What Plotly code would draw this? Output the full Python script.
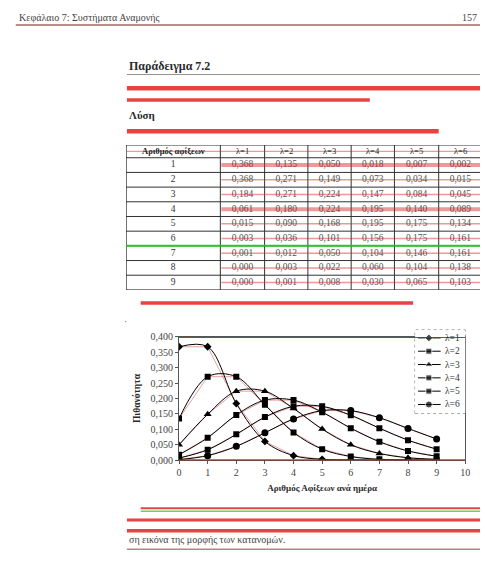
import plotly.graph_objects as go

W, H = 485, 571

# ---- data ----
arrivals = [0, 1, 2, 3, 4, 5, 6, 7, 8, 9]
lam1 = [0.368, 0.368, 0.184, 0.061, 0.015, 0.003, 0.001, 0.000, 0.000, 0.000]
lam2 = [0.135, 0.271, 0.271, 0.180, 0.090, 0.036, 0.012, 0.003, 0.001, 0.000]
lam3 = [0.050, 0.149, 0.224, 0.224, 0.168, 0.101, 0.050, 0.022, 0.008, 0.003]
lam4 = [0.018, 0.073, 0.147, 0.195, 0.195, 0.156, 0.104, 0.060, 0.030, 0.013]
lam5 = [0.007, 0.034, 0.084, 0.140, 0.175, 0.175, 0.146, 0.104, 0.065, 0.036]
lam6 = [0.002, 0.015, 0.045, 0.089, 0.134, 0.161, 0.161, 0.138, 0.103, 0.069]
series_names = ["λ=1", "λ=2", "λ=3", "λ=4", "λ=5", "λ=6"]
table_header = ["Αριθμός αφίξεων"] + series_names
table_rows = [1, 2, 3, 4, 5, 6, 7, 8, 9]
x_ticks = [0, 1, 2, 3, 4, 5, 6, 7, 8, 9, 10]
y_ticks = [0, 0.05, 0.10, 0.15, 0.20, 0.25, 0.30, 0.35, 0.40]

series = [lam1, lam2, lam3, lam4, lam5, lam6]
symbols = ["diamond", "square", "triangle-up", "square", "square", "circle"]
sizes = [6, 6, 7, 6, 6, 7]

FONT = "Liberation Serif"
TXT = "#2a2a2a"


def px(x):
    return x / W


def py(y):
    return 1 - y / H


fig = go.Figure()

# red linear overlay (scan artefacts)
for s in series:
    fig.add_trace(go.Scatter(x=arrivals, y=s, mode="lines",
                             line=dict(color="rgba(200,20,20,0.5)", width=0.8),
                             showlegend=False, hoverinfo="skip"))

for name, s, sym, sz in zip(series_names, series, symbols, sizes):
    fig.add_trace(go.Scatter(
        x=arrivals, y=s, name=name, mode="lines+markers", showlegend=False,
        line=dict(color="black", width=1, shape="spline", smoothing=1),
        marker=dict(symbol=sym, size=sz, color="black"),
    ))

# hand-made legend (small, tight box like the scan) on its own axes
leg_annotations = []
for k, (name, sym, sz) in enumerate(zip(series_names, symbols, sizes)):
    fig.add_trace(go.Scatter(
        x=[3, 14, 26], y=[k, k, k], mode="lines+markers", showlegend=False, hoverinfo="skip",
        xaxis="x2", yaxis="y2",
        line=dict(color="black", width=1),
        marker=dict(symbol=sym, size=[0, sz, 0], color="black"),
    ))
    leg_annotations.append(dict(text=name, x=28, y=k, xref="x2", yref="y2", xanchor="left",
                                yanchor="middle", showarrow=False,
                                font=dict(family=FONT, size=9.5, color="#333")))

# ---- table drawn on its own axes (x3/y3, units = pixels inside the table) ----
def fmt(v):
    return f"{v:.3f}".replace(".", ",")

col_edges = [0, 96, 141, 185, 229, 273, 318, 362]
header_h, row_h = 13, 15
col_centers = [(a + b) / 2 for a, b in zip(col_edges[:-1], col_edges[1:])]
row_centers = [header_h + row_h * i + row_h / 2 for i in range(len(table_rows))]
row_edges = [0, header_h] + [header_h + row_h * (i + 1) for i in range(len(table_rows))]

columns = [[str(r) for r in table_rows]] + [[fmt(v) for v in s[:len(table_rows)]] for s in series]
for j, colvals in enumerate(columns):
    fig.add_trace(go.Scatter(
        x=[col_centers[j]] * len(colvals), y=row_centers, text=colvals, mode="text",
        textfont=dict(family=FONT, size=9.5, color="#333" if j == 0 else "#555"),
        xaxis="x3", yaxis="y3", showlegend=False, hoverinfo="skip", cliponaxis=False,
    ))
table_ann = []
for j, h in enumerate(table_header):
    table_ann.append(dict(text=f"<b>{h}</b>" if j == 0 else h, x=col_centers[j], y=header_h / 2,
                          xref="x3", yref="y3", showarrow=False, xanchor="center", yanchor="middle",
                          font=dict(family=FONT, size=8.5, color="#222")))

shapes = []
for ye in row_edges:
    shapes.append(dict(type="line", xref="x3", yref="y3", x0=0, x1=col_edges[-1], y0=ye, y1=ye,
                       line=dict(color="#333", width=1)))
for xe in col_edges:
    shapes.append(dict(type="line", xref="x3", yref="y3", x0=xe, x1=xe, y0=0, y1=row_edges[-1],
                       line=dict(color="#333", width=1.5 if xe == 0 else 1)))

# header rule
shapes.append(dict(type="line", xref="paper", yref="paper", x0=px(13), x1=1, y0=py(19.5), y1=py(19.5),
                   line=dict(color="rgba(150,60,60,0.8)", width=1.5)))
# title underline
shapes.append(dict(type="line", xref="paper", yref="paper", x0=px(126), x1=1, y0=py(70), y1=py(70),
                   line=dict(color="rgba(120,120,110,0.8)", width=1)))
# red redaction bars over text lines
for (x0, x1, yc, w) in [(126, 485, 84, 4.5), (126, 373, 96, 3.5), (126, 443, 128, 4.5),
                        (140, 417, 303.5, 3.5), (140, 485, 513, 2), (126, 485, 525, 3),
                        (126, 485, 536, 3.5)]:
    shapes.append(dict(type="line", xref="paper", yref="paper", x0=px(x0), x1=px(x1), y0=py(yc), y1=py(yc),
                       line=dict(color="rgba(225,20,20,0.8)", width=w)))
# green accents
shapes.append(dict(type="line", xref="paper", yref="paper", x0=px(140), x1=1, y0=py(516), y1=py(516),
                   line=dict(color="rgba(60,200,60,0.8)", width=1.5)))
shapes.append(dict(type="line", xref="paper", yref="paper", x0=px(126), x1=1, y0=py(555), y1=py(555),
                   line=dict(color="rgba(150,80,80,0.7)", width=1.5)))
# red strikes across table rows
for i in range(9):
    yc = 142 + header_h + row_h * i + row_h / 2
    w = 4 if i in (0, 3) else 1.5
    shapes.append(dict(type="line", xref="paper", yref="paper", x0=px(222), x1=1, y0=py(yc), y1=py(yc),
                       line=dict(color="rgba(210,30,30,0.45)", width=w)))
shapes.append(dict(type="line", xref="paper", yref="paper", x0=px(126), x1=1, y0=py(148.5), y1=py(148.5),
                   line=dict(color="rgba(210,30,30,0.45)", width=1.2)))
shapes.append(dict(type="line", xref="paper", yref="paper", x0=px(125), x1=1, y0=py(245), y1=py(245),
                   line=dict(color="rgba(40,200,40,0.9)", width=2)))
# chart frame accents
shapes.append(dict(type="line", xref="x", yref="y", x0=0, x1=10, y0=0, y1=0,
                   line=dict(color="rgba(200,30,30,0.9)", width=2)))
shapes.append(dict(type="line", xref="x", yref="y", x0=0, x1=10, y0=0.4, y1=0.4,
                   line=dict(color="rgba(150,40,40,0.9)", width=2)))
# legend box (dotted)
shapes.append(dict(type="rect", xref="paper", yref="paper", x0=px(419), x1=px(470), y0=py(416), y1=py(331),
                   line=dict(color="#666", width=1, dash="dot"), fillcolor="white", layer="below"))

annotations = [
    dict(text="Κεφάλαιο 7: Συστήματα Αναμονής", x=px(14), y=py(12), xanchor="left", yanchor="middle",
         font=dict(family=FONT, size=10, color="#444")),
    dict(text="157", x=px(484), y=py(12), xanchor="right", yanchor="middle",
         font=dict(family=FONT, size=10, color="#444")),
    dict(text="<b>Παράδειγμα 7.2</b>", x=px(126), y=py(61), xanchor="left", yanchor="middle",
         font=dict(family=FONT, size=12, color=TXT)),
    dict(text="<b>Λύση</b>", x=px(126), y=py(111), xanchor="left", yanchor="middle",
         font=dict(family=FONT, size=11, color=TXT)),
    dict(text="ση εικόνα της μορφής των κατανομών.", x=px(126), y=py(545), xanchor="left",
         yanchor="middle", font=dict(family=FONT, size=10, color="#444")),
    dict(text="·", x=px(125), y=py(322), xanchor="center", yanchor="middle",
         font=dict(family=FONT, size=10, color="#666")),
]
for a in annotations:
    a.update(xref="paper", yref="paper", showarrow=False)

fig.update_layout(
    width=W, height=H, margin=dict(l=0, r=0, t=0, b=0),
    paper_bgcolor="white", plot_bgcolor="white",
    separators=",.",
    font=dict(family=FONT, size=9, color=TXT),
    shapes=shapes, annotations=annotations + leg_annotations + table_ann,
    showlegend=False,
    xaxis=dict(domain=[px(179), px(470)], range=[0, 10], tickvals=x_ticks,
               showgrid=False, zeroline=False, showline=True, linecolor="#555", mirror=True,
               ticks="outside", ticklen=3, tickcolor="#555",
               tickfont=dict(family=FONT, size=10, color="#444"),
               title=dict(text="<b>Αριθμός Αφίξεων ανά ημέρα</b>", font=dict(family=FONT, size=9, color=TXT),
                          standoff=7)),
    yaxis=dict(domain=[py(464), py(338)], range=[0, 0.4], tickvals=y_ticks, tickformat=".3f",
               showgrid=False, zeroline=False, showline=True, linecolor="#555", mirror=True,
               ticks="outside", ticklen=3, tickcolor="#555",
               tickfont=dict(family=FONT, size=10, color="#444"),
               title=dict(text="<b>Πιθανότητα</b>", font=dict(family=FONT, size=9.5, color=TXT),
                          standoff=8)),
    xaxis2=dict(domain=[px(419), px(470)], range=[0, 51], visible=False, fixedrange=True, anchor="y2"),
    yaxis2=dict(domain=[py(416), py(331)], range=[5.66, -0.59], visible=False, fixedrange=True,
                anchor="x2"),
    xaxis3=dict(domain=[px(125), 1.0], range=[0, 360], visible=False, fixedrange=True, anchor="y3"),
    yaxis3=dict(domain=[py(290), py(142)], range=[148, 0], visible=False, fixedrange=True, anchor="x3"),
)

fig.write_html("out.html", config={"displayModeBar": False},
               post_script="document.body.style.margin='0px';")
